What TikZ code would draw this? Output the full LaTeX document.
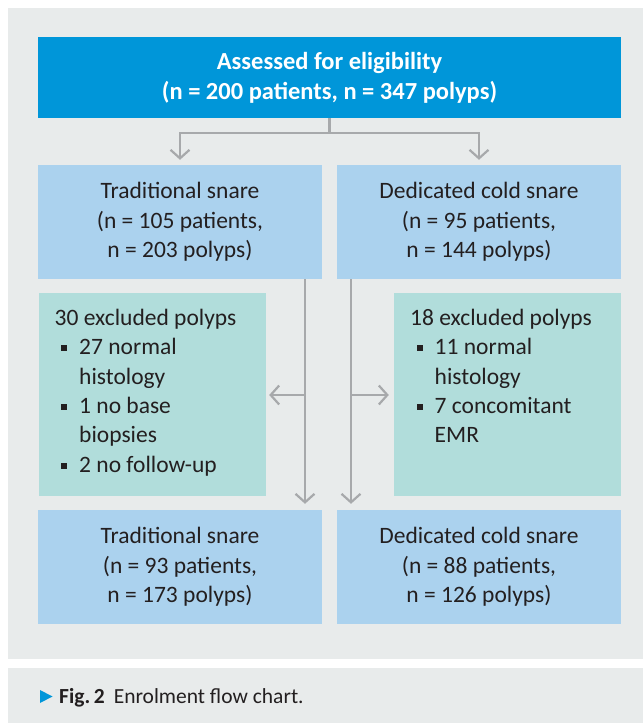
\documentclass[tikz,border=0pt]{standalone}
\usepackage{fontspec}
\setmainfont{Carlito}
\usetikzlibrary{arrows.meta}
\definecolor{bg}{HTML}{E8EBEB}
\definecolor{topblue}{HTML}{0096D9}
\definecolor{lightblue}{HTML}{ABD2EE}
\definecolor{teal}{HTML}{B1DDDB}
\definecolor{arrgrey}{HTML}{A7A9AB}
\definecolor{txt}{HTML}{231F20}
\newcommand{\bul}{\hspace*{6.5pt}\rule[3.5pt]{6pt}{6pt}\hspace*{12pt}}
\newcommand{\ind}{\hspace*{24.5pt}}
\begin{document}
\begin{tikzpicture}[x=1pt,y=-1pt,
  box/.style={inner sep=0pt, text=txt, align=center, font=\fontsize{23.5}{29.5}\selectfont, minimum width=284pt, minimum height=114pt, fill=lightblue},
  exbox/.style={inner sep=0pt, fill=teal, minimum width=227pt, minimum height=203pt},
  extext/.style={inner sep=0pt, text=txt, align=left, anchor=north west, font=\fontsize{23.5}{29.3}\selectfont},
  line/.style={draw=arrgrey, line width=2.2pt},
  arr/.style={line, -{Straight Barb[length=8.5pt,width=19pt]}},
]
\useasboundingbox (0,0) rectangle (643,723);
\fill[white] (0,0) rectangle (643,723);
\fill[bg] (8,8) rectangle (643,659);
\fill[bg] (8,668) rectangle (643,723);

\node[box, fill=topblue, text=white, minimum width=583pt, minimum height=81pt, font=\bfseries\fontsize{24.5}{30}\selectfont] (assess) at (329.5,77.5) {Assessed for eligibility\\(n = 200 patients, n = 347 polyps)};

\node[box] (trad1) at (180,222) {Traditional snare\\(n = 105 patients,\\n = 203 polyps)};
\node[box] (ded1) at (479,222) {Dedicated cold snare\\(n = 95 patients,\\n = 144 polyps)};

\node[exbox] (exL) at (152.5,394.5) {};
\node[exbox] (exR) at (507.5,394.5) {};
\node[extext] (exLt) at (54.5,309) {30 excluded polyps\\\bul 27 normal\\\ind histology\\\bul 1 no base\\\ind biopsies\\\bul 2 no follow-up};
\node[extext] (exRt) at (410,309) {18 excluded polyps\\\bul 11 normal\\\ind histology\\\bul 7 concomitant\\\ind EMR};

\node[box] (trad2) at (180,567) {Traditional snare\\(n = 93 patients,\\n = 173 polyps)};
\node[box] (ded2) at (479,567) {Dedicated cold snare\\(n = 88 patients,\\n = 126 polyps)};

% connectors
\draw[line] (assess.south) -- ++(0,15) coordinate (j);
\draw[arr, shorten >=5pt] (j) -| (trad1.north);
\draw[arr, shorten >=5pt] (j) -| (ded1.north);

\coordinate (lx) at (305,0);
\coordinate (rx) at (351,0);
\coordinate (ly) at (0,395);
\draw[arr, shorten >=6pt] (trad1.south -| lx) -- (trad2.north -| lx);
\draw[arr, shorten >=6pt] (ded1.south -| rx) -- (ded2.north -| rx);
\draw[arr, shorten >=3pt] (lx |- ly) -- (exL.east |- ly);
\draw[arr, shorten >=5pt] (rx |- ly) -- (exR.west |- ly);

% caption
\fill[topblue] (40,690) -- (52.5,696.5) -- (40,703) -- cycle;
\node[inner sep=0pt, anchor=base west, text=txt, font=\fontsize{21.5}{26}\selectfont] (cap) at (59,703) {\textbf{Fig.\,2}\hspace{9pt}Enrolment flow chart.};
\end{tikzpicture}
\end{document}
